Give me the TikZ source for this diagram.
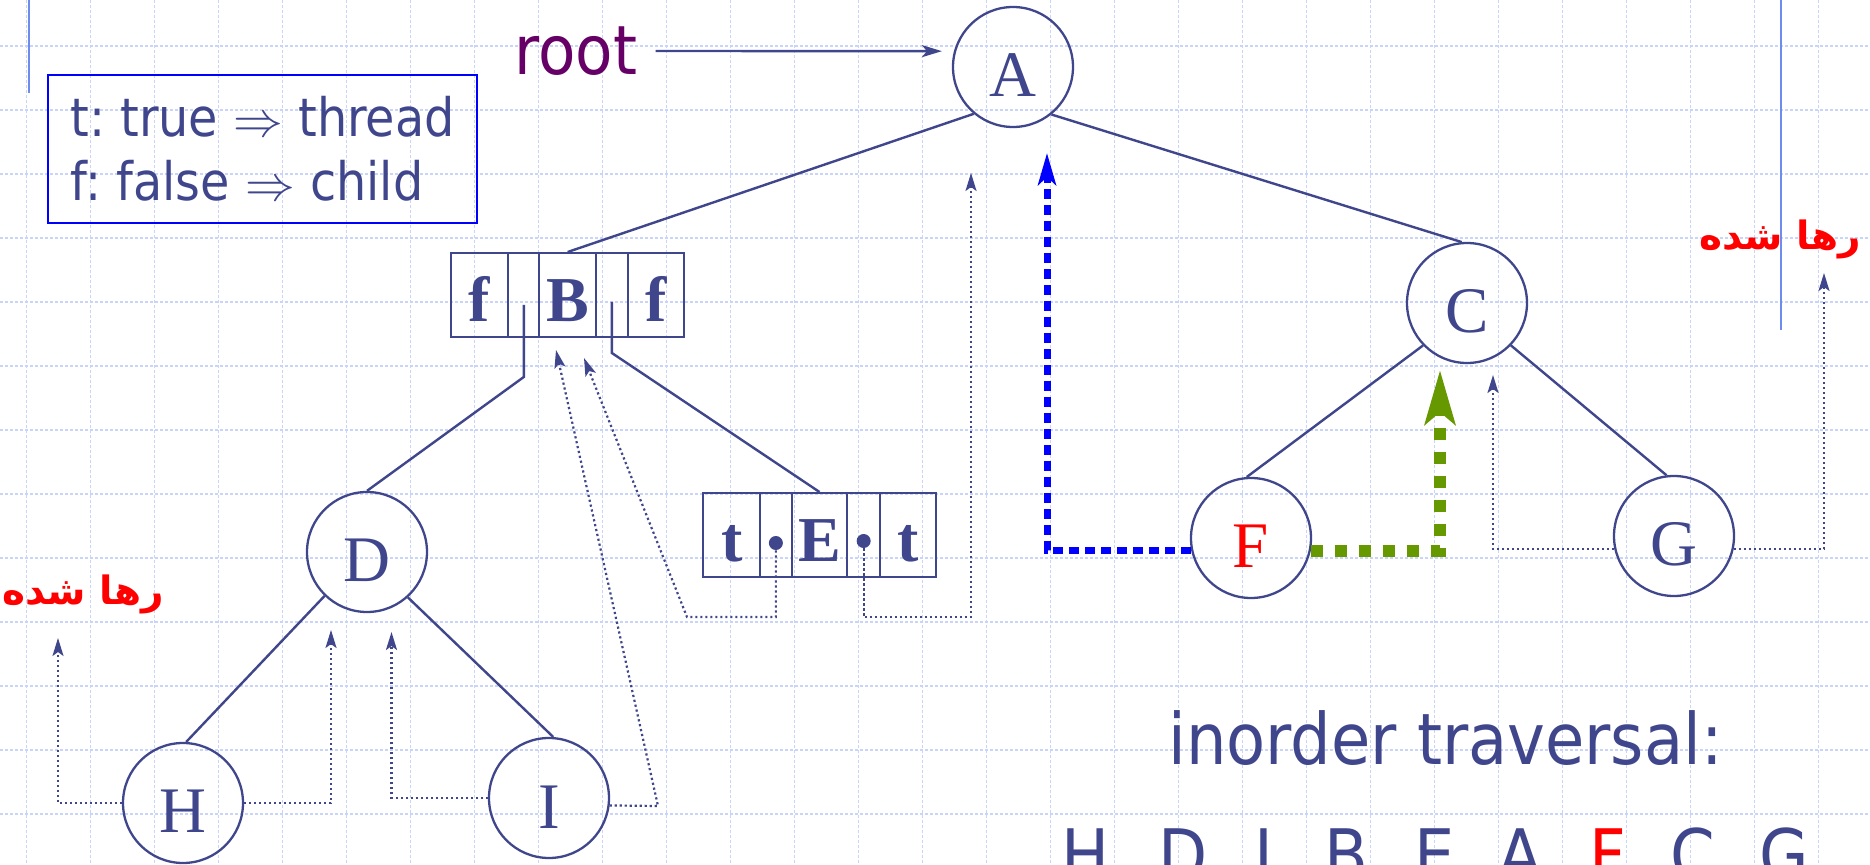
\documentclass[tikz,border=0pt]{standalone}
\usepackage{fontspec}
\setmainfont{Liberation Serif}
\newfontfamily\labelfont{DejaVu Sans Condensed}
\newfontfamily\arabicfont[Script=Arabic]{DejaVu Sans}
\usetikzlibrary{arrows.meta,calc}
\TeXXeTstate=1
\frenchspacing

\definecolor{navy}{RGB}{64,70,140}
\definecolor{gridblue}{RGB}{200,212,248}
\definecolor{ruleblue}{RGB}{110,140,240}
\definecolor{rootpurple}{RGB}{102,0,102}
\definecolor{thgreen}{RGB}{102,153,0}
\definecolor{thblue}{RGB}{0,0,255}

\tikzset{
  gridline/.style={draw=gridblue, line width=0.6pt, dash pattern=on 1.5pt off 1pt},
  treenode/.style={circle, draw=navy, line width=1.15pt, minimum size=60pt, inner sep=0pt,
    font=\fontsize{32.5}{32.5}\selectfont, text=navy, text height=30pt, text depth=0pt},
  cell/.style={rectangle, draw=navy, line width=1pt, minimum height=42pt, inner sep=0pt,
    font=\fontsize{32}{32}\selectfont\bfseries, text=navy, text height=27pt, text depth=0pt},
  dotmark/.style={circle, fill=navy, minimum size=7pt, inner sep=0pt},
  treeedge/.style={draw=navy, line width=1.2pt},
  thread/.style={draw=navy, line width=1.1pt, dash pattern=on 1.1pt off 1.4pt,
    -{Stealth[length=9pt,width=5.5pt,inset=2pt]}},
  bluethread/.style={draw=thblue, line width=3.5pt, dash pattern=on 5pt off 3pt,
    -{Stealth[length=16pt,width=9pt,inset=4pt]}},
  greenthread/.style={draw=thgreen, line width=6pt, dash pattern=on 6pt off 6pt,
    -{Stealth[length=27pt,width=15pt,inset=6pt]}},
  freed/.style={text=red, font=\arabicfont\bfseries\fontsize{19.5}{19.5}\selectfont, inner sep=0pt},
  sanstext/.style={text=navy, font=\labelfont\fontsize{35.5}{35.5}\selectfont, inner sep=0pt},
}

\begin{document}
\begin{tikzpicture}[x=0.5pt, y=-0.5pt]
\useasboundingbox (0,0) rectangle (1870,865);
\fill[white] (0,0) rectangle (1870,865);

% background grid
\foreach \gx in {0,...,28} \draw[gridline] ({26.7+64*\gx},0) -- ({26.7+64*\gx},865);
\foreach \gy in {0,...,12} \draw[gridline] (0,{46+64*\gy}) -- (1870,{46+64*\gy});

% margin rules
\draw[ruleblue, line width=1pt] (29,0) -- (29,93);
\draw[ruleblue, line width=1pt] (1781,0) -- (1781,330);

% legend
\node[draw=thblue, line width=1.2pt, minimum width=214.5pt, minimum height=74pt,
      inner sep=0pt, align=left, text=navy,
      font=\labelfont\fontsize{26.5}{32}\selectfont] (key) at (262.5,149)
  {t: true $\Rightarrow$ thread\\ f: false $\Rightarrow$ child};

% root pointer
\node[text=rootpurple, font=\labelfont\fontsize{34}{34}\selectfont, inner sep=0pt] (root) at (576,51) {root};

% tree nodes
\node[treenode] (A) at (1013,67) {A};
\node[treenode] (C) at (1467,303) {C};
\node[treenode] (D) at (367,552) {D};
\node[treenode, text=red] (F) at (1251,538) {F};
\node[treenode] (G) at (1674,536) {G};
\node[treenode] (H) at (183,803) {H};
\node[treenode] (I) at (549,798) {I};

% threaded record of B
\node[cell, minimum width=28.65pt] (bL)  at (479.65,295) {f};
\node[cell, minimum width=15.5pt]  (bLp) at (523.8,295) {};
\node[cell, minimum width=28.35pt] (bM)  at (567.65,295) {B};
\node[cell, minimum width=15.85pt] (bRp) at (611.85,295) {};
\node[cell, minimum width=28.3pt]  (bR)  at (656,295) {f};

% threaded record of E
\node[cell, minimum width=28.35pt] (eL)  at (731.65,535) {t};
\node[cell, minimum width=15.85pt] (eLp) at (775.85,535) {};
\node[cell, minimum width=27.8pt]  (eM)  at (819.5,535) {E};
\node[cell, minimum width=16.35pt] (eRp) at (863.65,535) {};
\node[cell, minimum width=28pt]    (eR)  at (908,535) {t};
\node[dotmark] (eLd) at (775.85,543) {};
\node[dotmark] (eRd) at (863.65,541) {};

% child links
\draw[navy, line width=1.2pt, -{Stealth[length=10pt,width=6pt,inset=2.5pt]}, shorten <=9pt, shorten >=6pt]
  (root.east) -- (A.165);
\draw[treeedge] (A.230) -- (bM.north);
\draw[treeedge] (A.309) -- (C.95);
\draw[treeedge] ([yshift=-5pt]bLp.center) -- ++(0,72) -- (D.north);
\draw[treeedge] ([yshift=-3.5pt]bRp.center) -- ++(0,51) -- (eM.north);
\draw[treeedge] (D.226) -- (H.87);
\draw[treeedge] (D.312) -- (I.86);
\draw[treeedge] (C.224) -- (F.94);
\draw[treeedge] (C.316) -- (G.97);

% thread end points
\coordinate (hFree) at (58,638);
\coordinate (dTipL) at (331,630);
\coordinate (dTipR) at (391.5,632);
\coordinate (iBend) at (658,806);
\coordinate (bTipR) at (556,350);
\coordinate (eBendL) at (687,617);
\coordinate (bTipL) at (584,358);
\coordinate (eBendR) at (971,617);
\coordinate (aTipL) at (971,173);
\coordinate (aTipR) at (1047,153);
\coordinate (cTipL) at (1440,370);
\coordinate (cTipR) at (1493,375);
\coordinate (gFree) at (1824,273);

% threads
\draw[thread] (H.west) -| (hFree);
\draw[thread] (H.east) -| (dTipL);
\draw[thread] (I.west) -| (dTipR);
\draw[thread] (I.-7) -- (iBend) -- (bTipR);
\draw[thread] (eLd) |- (eBendL) -- (bTipL);
\draw[thread] (eRd) |- (eBendR) -- (aTipL);
\draw[bluethread] (F.192) -| (aTipR);
\draw[greenthread] (F.348) -| (cTipL);
\draw[thread] (G.192) -| (cTipR);
\draw[thread] (G.348) -| (gFree);

% released-thread notes
\node[freed] (relR) at (1780,239) {\beginR رها شده\endR};
\node[freed] (relL) at (83,594) {\beginR رها شده\endR};

% traversal
\node[sanstext, anchor=base west] (trav) at (1168,765) {inorder traversal:};
\foreach \ch/\cx/\cc in {H/1086/navy, D/1183/navy, I/1264/navy, B/1346/navy, E/1435/navy,
                         A/1520/navy, F/1608/red, C/1693/navy, G/1784/navy}
  \node[sanstext, text=\cc, anchor=base] (seq\ch) at (\cx,880) {\ch};
\end{tikzpicture}
\end{document}
